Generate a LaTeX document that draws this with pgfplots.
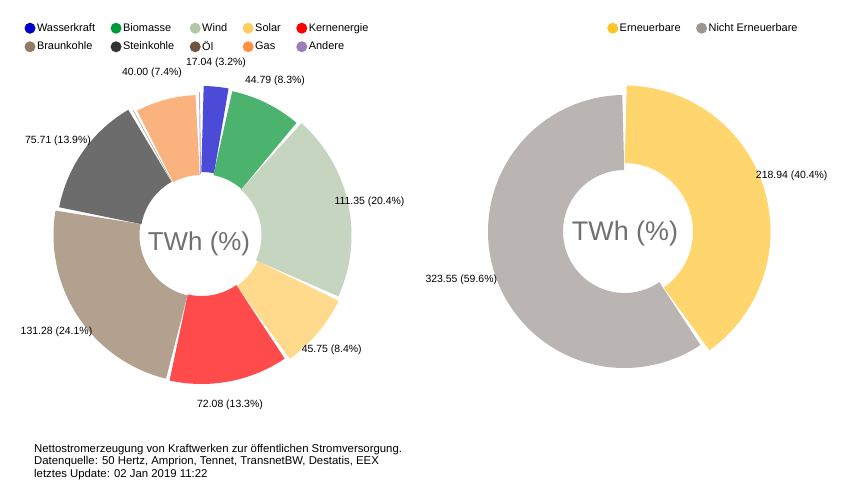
\documentclass[border=0pt]{standalone}
\usepackage{pgfplots}
\pgfplotsset{compat=1.18}
\usepackage{pgfplotstable}
\usepackage{fontspec}
\setmainfont{Liberation Sans}

% slice colours (lighter) and legend colours
\definecolor{cW}{HTML}{4B4BD8}\definecolor{lW}{HTML}{0000CC}
\definecolor{cB}{HTML}{4CB36F}\definecolor{lB}{HTML}{00993A}
\definecolor{cWi}{HTML}{C5D5BF}\definecolor{lWi}{HTML}{AFC8A5}
\definecolor{cS}{HTML}{FFDA8C}\definecolor{lS}{HTML}{FFCC60}
\definecolor{cK}{HTML}{FF4B4B}\definecolor{lK}{HTML}{FF0000}
\definecolor{cBr}{HTML}{B3A190}\definecolor{lBr}{HTML}{947A62}
\definecolor{cSt}{HTML}{6C6C6C}\definecolor{lSt}{HTML}{333333}
\definecolor{cO}{HTML}{9B8778}\definecolor{lO}{HTML}{70543E}
\definecolor{cG}{HTML}{FAB37F}\definecolor{lG}{HTML}{FF9147}
\definecolor{cA}{HTML}{B9A6D1}\definecolor{lA}{HTML}{9B80BD}
\definecolor{cE}{HTML}{FFD66E}\definecolor{lE}{HTML}{FFC425}
\definecolor{cN}{HTML}{BAB5B2}\definecolor{lN}{HTML}{9C9591}
\definecolor{twh}{HTML}{707070}

% value in TWh, slice colour, legend colour, inner and outer radius (px)
\pgfplotstableread{
name        value   fc   lc   rin   rout
Wasserkraft 17.04   cW   lW   63    149
Biomasse    44.79   cB   lB   61    147
Wind        111.35  cWi  lWi  60    150
Solar       45.75   cS   lS   62    152
Kernenergie 72.08   cK   lK   61    149
Braunkohle  131.28  cBr  lBr  62    148
Steinkohle  75.71   cSt  lSt  61    145
Oel         2.00    cO   lO   61    143
Gas         40.00   cG   lG   60    140
Andere      2.48    cA   lA   61    143
}\leftdata

\pgfplotstableread{
name        value   fc   lc   rin   rout
Erneuerbare 218.94  cE   lE   68.5  146
Nicht       323.55  cN   lN   61.5  136.5
}\rightdata

% #1 table, #2 centre x, #3 centre y, #4 gap (px)
\newcommand\drawdonut[4]{%
  \pgfplotstablegetrowsof{#1}%
  \pgfmathtruncatemacro\nrows{\pgfplotsretval-1}%
  \def\tot{0}%
  \pgfplotsforeachungrouped \i in {0,...,\nrows}{%
    \pgfplotstablegetelem{\i}{value}\of{#1}%
    \pgfmathsetmacro\tot{\tot+\pgfplotsretval}}%
  \def\cum{0}%
  \pgfplotsforeachungrouped \i in {0,...,\nrows}{%
    \pgfplotstablegetelem{\i}{value}\of{#1}\let\val\pgfplotsretval
    \pgfplotstablegetelem{\i}{fc}\of{#1}\let\fc\pgfplotsretval
    \pgfplotstablegetelem{\i}{lc}\of{#1}\let\lc\pgfplotsretval
    \pgfplotstablegetelem{\i}{rin}\of{#1}\let\rin\pgfplotsretval
    \pgfplotstablegetelem{\i}{rout}\of{#1}\let\rout\pgfplotsretval
    \pgfmathsetmacro\rmid{(\rin+\rout)/2}%
    \pgfmathsetmacro\lw{\rout-\rin}%
    \pgfmathsetmacro\gd{#4/2/\rmid*180/pi}%
    \pgfmathsetmacro\aS{\cum/\tot*360+\gd}%
    \pgfmathsetmacro\cum{\cum+\val}%
    \pgfmathsetmacro\aE{\cum/\tot*360-\gd}%
    \pgfmathtruncatemacro\ns{max(2,(\aE-\aS)/1.5)}%
    \edef\cmd{\noexpand\addplot[draw=\fc, line width=\lw bp, line join=miter,
      domain=\aS:\aE, samples=\ns, variable=\noexpand\t,
      legend image code/.code={\noexpand\path[draw=none, fill=\lc, line width=0pt] (5.5bp,0bp) circle[radius=5.5bp];}]
      ({#2+\rmid*sin(\noexpand\t)},{#3+\rmid*cos(\noexpand\t)});}%
    \cmd
  }%
}

\pgfplotsset{donut/.style={x=1bp, y=1bp, xmin=0, xmax=850, ymin=0, ymax=504,
  hide axis, clip=false, at={(0,0)}, anchor=south west,
  legend cell align=left,
  legend style={draw=none, fill=none, inner sep=0pt, outer sep=0pt,
    font=\fontsize{11}{12}\selectfont, anchor=north west,
    nodes={inner xsep=1.5bp, inner ysep=1bp},
    /tikz/every even column/.append style={column sep=14bp},
    row sep=6.5bp}}}

\begin{document}
\begin{tikzpicture}
\path[use as bounding box] (0,0) rectangle (850bp,504bp);
\fill[white] (0,0) rectangle (850bp,504bp);

\begin{axis}[donut, legend columns=5,
  legend style={at={(axis cs:24.5,481.5)}},
  legend entries={Wasserkraft,Biomasse,Wind,Solar,Kernenergie,Braunkohle,Steinkohle,Öl,Gas,Andere}]
\drawdonut{\leftdata}{201.5}{269}{2}
\node[font=\fontsize{26}{30}\selectfont, text=twh, anchor=base] at (axis cs:199,254) {TWh (\%)};
\begin{scope}[every node/.style={font=\fontsize{10.5}{12}\selectfont, inner sep=0pt}]
\node at (axis cs:216,441) {17.04 (3.2\%)};
\node at (axis cs:152,431) {40.00 (7.4\%)};
\node at (axis cs:275,423) {44.79 (8.3\%)};
\node at (axis cs:58,363.5) {75.71 (13.9\%)};
\node at (axis cs:369.5,302) {111.35 (20.4\%)};
\node at (axis cs:56.5,172.5) {131.28 (24.1\%)};
\node at (axis cs:331.7,154) {45.75 (8.4\%)};
\node at (axis cs:230,99) {72.08 (13.3\%)};
\end{scope}
\begin{scope}[every node/.style={font=\fontsize{11.4}{12}\selectfont, inner sep=0pt}]
\node[anchor=base west] at (axis cs:34,52) {Nettostromerzeugung von Kraftwerken zur öffentlichen Stromversorgung.};
\node[anchor=base west] at (axis cs:34,39.5) {Datenquelle: 50 Hertz, Amprion, Tennet, TransnetBW, Destatis, EEX};
\node[anchor=base west] at (axis cs:34,27) {letztes Update: 02 Jan 2019 11:22};
\end{scope}
\end{axis}

\begin{axis}[donut, legend columns=2,
  legend style={at={(axis cs:607.2,481.5)}},
  legend entries={Erneuerbare,Nicht Erneuerbare}]
\drawdonut{\rightdata}{624.5}{272.5}{2.5}
\node[font=\fontsize{27}{31}\selectfont, text=twh, anchor=base] at (axis cs:625,263.3) {TWh (\%)};
\begin{scope}[every node/.style={font=\fontsize{10.5}{12}\selectfont, inner sep=0pt}]
\node at (axis cs:791.7,328) {218.94 (40.4\%)};
\node at (axis cs:461.3,224.7) {323.55 (59.6\%)};
\end{scope}
\end{axis}
\end{tikzpicture}
\end{document}
